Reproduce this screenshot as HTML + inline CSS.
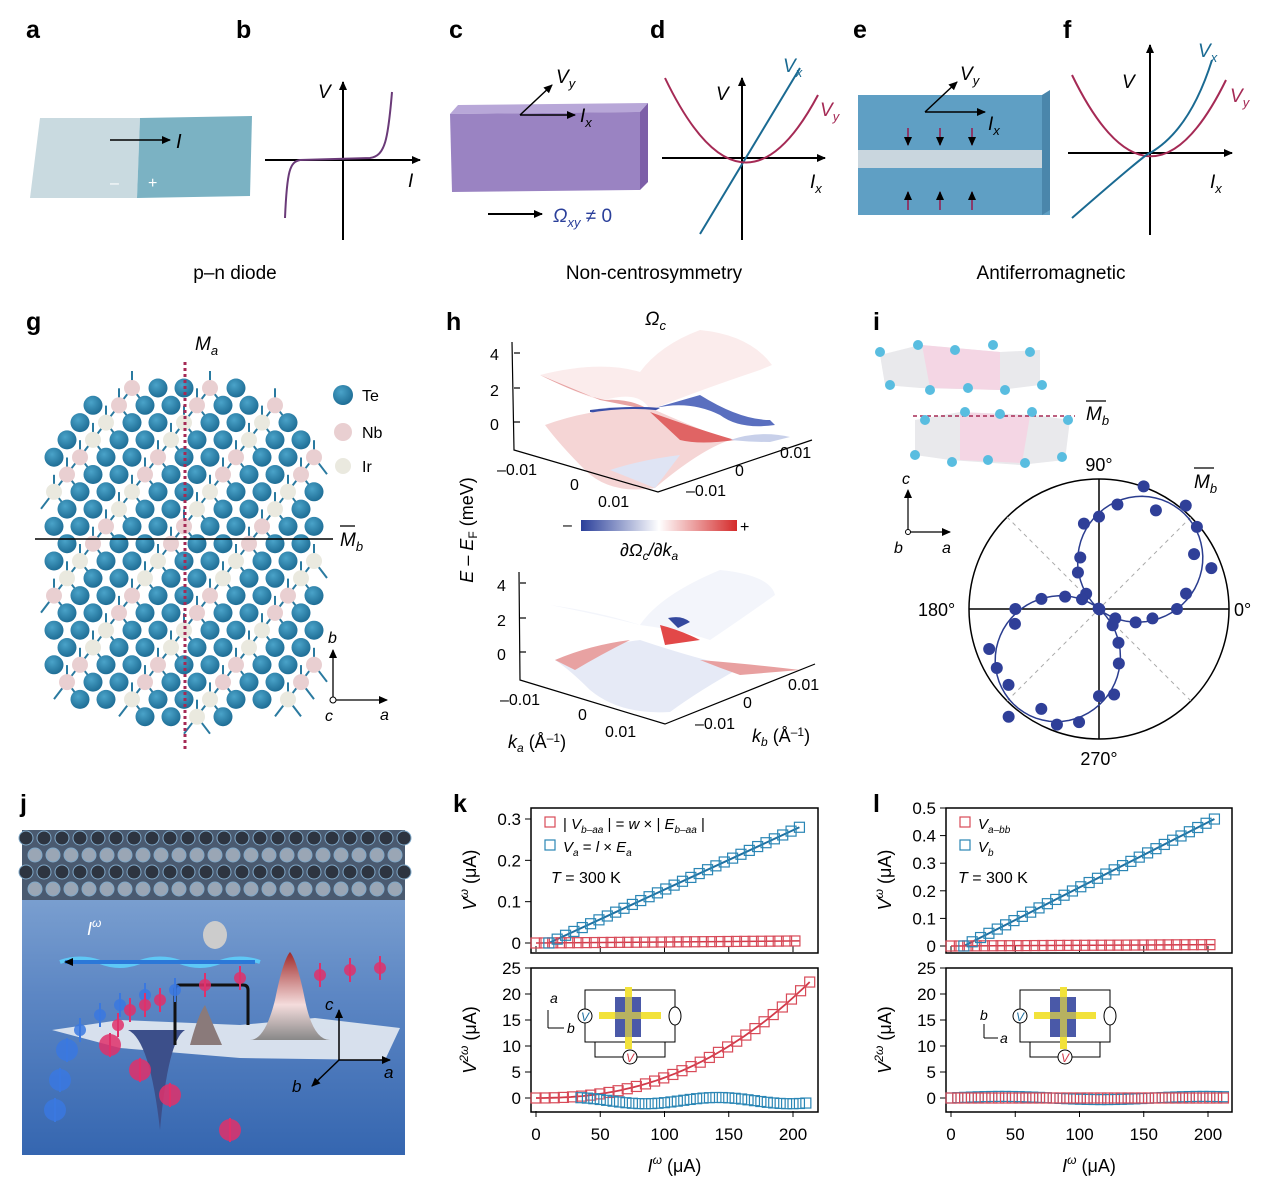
<!DOCTYPE html>
<html><head><meta charset="utf-8"><style>
html,body{margin:0;padding:0;background:#fff}
svg{display:block;font-family:"Liberation Sans",sans-serif}
.lb{font-weight:bold;font-size:25px}
.t{font-size:17px}
.it{font-style:italic}
</style></head><body>
<svg id="s" width="1280" height="1194" viewBox="0 0 1280 1194" xmlns="http://www.w3.org/2000/svg">
<defs>
<marker id="ar" markerWidth="10" markerHeight="10" refX="8" refY="5" orient="auto" markerUnits="userSpaceOnUse"><path d="M0,1 L9,5 L0,9 z" fill="#000"/></marker>
<linearGradient id="cb" x1="0" x2="1"><stop offset="0" stop-color="#2a3f9a"/><stop offset="0.5" stop-color="#fff"/><stop offset="1" stop-color="#d42a2a"/></linearGradient>
<linearGradient id="jbg" x1="0" y1="0" x2="0" y2="1"><stop offset="0" stop-color="#8fb0d8"/><stop offset="0.5" stop-color="#5d87c4"/><stop offset="1" stop-color="#3566b0"/></linearGradient>
<linearGradient id="pk" x1="0" y1="0" x2="0" y2="1"><stop offset="0" stop-color="#a02a2a"/><stop offset="0.6" stop-color="#f4dcdc"/><stop offset="1" stop-color="#888"/></linearGradient>
<radialGradient id="te" cx="0.4" cy="0.35" r="0.7"><stop offset="0" stop-color="#4aa3c9"/><stop offset="1" stop-color="#1c6a92"/></radialGradient>
</defs>

<text class="lb" x="26" y="38">a</text><text class="lb" x="236" y="38">b</text>
<text class="lb" x="449" y="38">c</text><text class="lb" x="650" y="38">d</text>
<text class="lb" x="853" y="38">e</text><text class="lb" x="1063" y="38">f</text>
<text x="235" y="279" font-size="19" text-anchor="middle">p–n diode</text>
<text x="654" y="279" font-size="19" text-anchor="middle">Non-centrosymmetry</text>
<text x="1051" y="279" font-size="19" text-anchor="middle">Antiferromagnetic</text>

<!-- a -->
<polygon points="40,118 140,118 137,198 30,198" fill="#c9dae0"/>
<polygon points="140,118 252,116 250,196 137,198" fill="#7bb2c3"/>
<line x1="110" y1="140" x2="170" y2="140" stroke="#000" stroke-width="1.5" marker-end="url(#ar)"/>
<text x="176" y="148" font-size="20" class="it">I</text>
<text x="110" y="188" fill="#fff" font-size="16">–</text><text x="148" y="188" fill="#fff" font-size="16">+</text>
<!-- b -->
<line x1="265" y1="160" x2="420" y2="160" stroke="#000" stroke-width="2" marker-end="url(#ar)"/>
<line x1="343" y1="240" x2="343" y2="82" stroke="#000" stroke-width="2" marker-end="url(#ar)"/>
<path d="M285,218 C287,170 290,162 300,160 L370,158 C385,156 388,140 392,92" fill="none" stroke="#6a3a78" stroke-width="2"/>
<text x="318" y="98" font-size="19" class="it">V</text><text x="408" y="187" font-size="19" class="it">I</text>
<!-- c -->
<polygon points="458,105 648,103 640,112 450,114" fill="#b8a7d8"/>
<polygon points="450,114 640,112 640,190 452,192" fill="#9a83c2"/>
<polygon points="640,112 648,103 648,182 640,190" fill="#7d5fa8"/>
<line x1="520" y1="115" x2="575" y2="115" stroke="#000" stroke-width="1.5" marker-end="url(#ar)"/>
<line x1="520" y1="115" x2="552" y2="85" stroke="#000" stroke-width="1.5" marker-end="url(#ar)"/>
<text x="556" y="83" font-size="19" class="it">V<tspan font-size="13" dy="5">y</tspan></text>
<text x="580" y="122" font-size="19" class="it">I<tspan font-size="13" dy="5">x</tspan></text>
<line x1="488" y1="214" x2="542" y2="214" stroke="#000" stroke-width="2" marker-end="url(#ar)"/>
<text x="553" y="222" font-size="19" fill="#2a3f9a"><tspan class="it">Ω</tspan><tspan font-size="13" dy="5" class="it">xy</tspan><tspan dy="-5"> ≠ 0</tspan></text>
<!-- d -->
<line x1="662" y1="158" x2="825" y2="158" stroke="#000" stroke-width="2" marker-end="url(#ar)"/>
<line x1="742" y1="240" x2="742" y2="78" stroke="#000" stroke-width="2" marker-end="url(#ar)"/>
<line x1="700" y1="234" x2="800" y2="68" stroke="#1a6a92" stroke-width="2"/>
<path d="M665,78 Q742,238 818,95" fill="none" stroke="#a52a55" stroke-width="2"/>
<text x="716" y="100" font-size="19" class="it">V</text>
<text x="783" y="72" font-size="19" class="it" fill="#1a6a92">V<tspan font-size="13" dy="5">x</tspan></text>
<text x="820" y="116" font-size="19" class="it" fill="#a52a55">V<tspan font-size="13" dy="5">y</tspan></text>
<text x="810" y="188" font-size="19" class="it">I<tspan font-size="13" dy="5">x</tspan></text>
<!-- e -->
<polygon points="858,95 1050,95 1050,150 858,150" fill="#5f9fc4"/>
<polygon points="858,150 1050,150 1050,168 858,168" fill="#c9d6de"/>
<polygon points="858,168 1050,168 1050,215 858,215" fill="#5f9fc4"/>
<polygon points="1042,95 1050,90 1050,210 1042,215" fill="#4a86ab"/>
<g stroke="#8a3a6a" stroke-width="2" fill="#8a3a6a">
<line x1="908" y1="128" x2="908" y2="145" marker-end="url(#ar)"/><line x1="940" y1="128" x2="940" y2="145" marker-end="url(#ar)"/><line x1="972" y1="128" x2="972" y2="145" marker-end="url(#ar)"/>
<line x1="908" y1="210" x2="908" y2="192" marker-end="url(#ar)"/><line x1="940" y1="210" x2="940" y2="192" marker-end="url(#ar)"/><line x1="972" y1="210" x2="972" y2="192" marker-end="url(#ar)"/>
</g>
<line x1="925" y1="112" x2="985" y2="112" stroke="#000" stroke-width="1.5" marker-end="url(#ar)"/>
<line x1="925" y1="112" x2="957" y2="82" stroke="#000" stroke-width="1.5" marker-end="url(#ar)"/>
<text x="960" y="80" font-size="19" class="it">V<tspan font-size="13" dy="5">y</tspan></text>
<text x="988" y="130" font-size="19" class="it">I<tspan font-size="13" dy="5">x</tspan></text>
<!-- f -->
<line x1="1068" y1="153" x2="1232" y2="153" stroke="#000" stroke-width="2" marker-end="url(#ar)"/>
<line x1="1150" y1="235" x2="1150" y2="45" stroke="#000" stroke-width="2" marker-end="url(#ar)"/>
<path d="M1072,75 Q1150,235 1226,80" fill="none" stroke="#a52a55" stroke-width="2"/>
<path d="M1072,218 Q1150,150 1150,153 Q1190,130 1212,60" fill="none" stroke="#1a6a92" stroke-width="2"/>
<text x="1122" y="88" font-size="19" class="it">V</text>
<text x="1198" y="57" font-size="19" class="it" fill="#1a6a92">V<tspan font-size="13" dy="5">x</tspan></text>
<text x="1230" y="102" font-size="19" class="it" fill="#a52a55">V<tspan font-size="13" dy="5">y</tspan></text>
<text x="1210" y="188" font-size="19" class="it">I<tspan font-size="13" dy="5">x</tspan></text>

<!-- g -->
<text class="lb" x="26" y="330">g</text>
<g id="bonds" stroke="#2a7aa0" stroke-width="2"></g>
<g id="lat"></g>
<line x1="185" y1="362" x2="185" y2="750" stroke="#a52a55" stroke-width="3" stroke-dasharray="3,3"/>
<line x1="35" y1="539" x2="333" y2="539" stroke="#000" stroke-width="1.5"/>
<text x="195" y="350" font-size="19" class="it">M<tspan font-size="13" dy="5">a</tspan></text>
<text x="340" y="546" font-size="19" class="it">M<tspan font-size="13" dy="5">b</tspan></text>
<line x1="340" y1="526" x2="355" y2="526" stroke="#000" stroke-width="1.3"/>
<circle cx="343" cy="395" r="10" fill="url(#te)"/><text x="362" y="401" font-size="16">Te</text>
<circle cx="343" cy="432" r="9" fill="#e9cfd1"/><text x="362" y="438" font-size="16">Nb</text>
<circle cx="343" cy="466" r="8" fill="#eae9df"/><text x="362" y="472" font-size="16">Ir</text>
<line x1="333" y1="700" x2="333" y2="650" stroke="#000" stroke-width="1.3" marker-end="url(#ar)"/>
<line x1="333" y1="700" x2="387" y2="700" stroke="#000" stroke-width="1.3" marker-end="url(#ar)"/>
<circle cx="333" cy="700" r="3" fill="#fff" stroke="#000"/>
<text x="328" y="643" font-size="16" class="it">b</text><text x="380" y="720" font-size="16" class="it">a</text><text x="325" y="721" font-size="16" class="it">c</text>

<!-- h -->
<text class="lb" x="446" y="330">h</text>
<text x="645" y="325" font-size="19" class="it">Ω<tspan font-size="13" dy="5">c</tspan></text>
<text transform="translate(473,530) rotate(-90)" font-size="18" text-anchor="middle"><tspan class="it">E</tspan> – <tspan class="it">E</tspan><tspan font-size="12" dy="4">F</tspan><tspan dy="-4"> (meV)</tspan></text>
<path d="M540,375 Q590,400 605,400 Q640,390 650,410 Q700,390 760,370 L772,365 Q750,335 700,330 Q660,345 640,372 Q600,360 540,375 Z" fill="#fbecec"/>
<path d="M540,375 Q580,395 605,400 Q630,398 650,410 L600,400 Z" fill="#e7a3a3"/>
<path d="M655,408 Q690,400 720,415 Q740,430 775,425 L770,420 Q740,420 700,395 Z" fill="#5a6fbf"/>
<path d="M590,410 Q630,405 660,408 Q640,420 590,412 Z" fill="#3a4fa8"/>
<path d="M545,425 Q600,405 655,410 Q700,430 730,440 Q700,450 655,488 Q610,495 585,470 Q560,445 545,425 Z" fill="#f5d5d5"/>
<path d="M650,412 Q700,430 735,440 Q700,445 680,440 Z" fill="#e06464"/>
<path d="M610,470 Q640,460 680,455 L655,488 Z" fill="#dfe4f4"/>
<path d="M730,440 Q760,430 790,437 L770,442 Q750,442 730,440 Z" fill="#c8d0ea"/>
<g stroke="#000" stroke-width="1.2" fill="none">
<polyline points="512,342 514,450 658,492 812,440"/>
<line x1="514" y1="353" x2="520" y2="353"/><line x1="514" y1="388" x2="520" y2="388"/><line x1="514" y1="422" x2="520" y2="422"/>
</g>
<text x="490" y="360" font-size="16">4</text><text x="490" y="396" font-size="16">2</text><text x="490" y="430" font-size="16">0</text>
<text x="497" y="475" font-size="16">–0.01</text><text x="570" y="490" font-size="16">0</text><text x="598" y="507" font-size="16">0.01</text>
<text x="780" y="458" font-size="16">0.01</text><text x="735" y="476" font-size="16">0</text><text x="686" y="496" font-size="16">–0.01</text>
<text x="563" y="530" font-size="16">–</text>
<rect x="581" y="520" width="156" height="11" fill="url(#cb)"/>
<text x="740" y="532" font-size="16">+</text>
<text x="620" y="556" font-size="18" class="it">∂Ω<tspan font-size="12" dy="4">c</tspan><tspan dy="-4">/∂k</tspan><tspan font-size="12" dy="4">a</tspan></text>
<path d="M550,605 Q600,615 640,625 Q660,595 720,570 Q770,575 775,595 Q740,620 710,640 Q680,630 640,625 Q600,612 550,605 Z" fill="#f3f5fb"/>
<path d="M660,625 Q680,630 700,640 L665,645 Z" fill="#e24848"/>
<path d="M668,618 Q682,615 690,622 L678,628 Z" fill="#34489e"/>
<path d="M555,660 Q600,645 640,640 Q700,660 740,668 Q700,690 670,712 Q620,715 590,690 Q570,670 555,660 Z" fill="#e6eaf6"/>
<path d="M555,660 Q590,645 630,640 Q600,655 575,670 Z" fill="#e8a2a2"/>
<path d="M700,660 Q760,665 800,670 L740,675 Q720,668 700,660 Z" fill="#e8a0a0"/>
<g stroke="#000" stroke-width="1.2" fill="none">
<polyline points="519,572 520,680 665,724 815,664"/>
<line x1="520" y1="583" x2="526" y2="583"/><line x1="520" y1="618" x2="526" y2="618"/><line x1="520" y1="652" x2="526" y2="652"/>
</g>
<text x="497" y="591" font-size="16">4</text><text x="497" y="626" font-size="16">2</text><text x="497" y="660" font-size="16">0</text>
<text x="500" y="705" font-size="16">–0.01</text><text x="578" y="720" font-size="16">0</text><text x="605" y="737" font-size="16">0.01</text>
<text x="788" y="690" font-size="16">0.01</text><text x="743" y="708" font-size="16">0</text><text x="695" y="729" font-size="16">–0.01</text>
<text x="508" y="748" font-size="18"><tspan class="it">k</tspan><tspan font-size="12" dy="4" class="it">a</tspan><tspan dy="-4"> (Å</tspan><tspan font-size="12" dy="-6">–1</tspan><tspan dy="6">)</tspan></text>
<text x="752" y="742" font-size="18"><tspan class="it">k</tspan><tspan font-size="12" dy="4" class="it">b</tspan><tspan dy="-4"> (Å</tspan><tspan font-size="12" dy="-6">–1</tspan><tspan dy="6">)</tspan></text>

<!-- i -->
<text class="lb" x="873" y="330">i</text>
<polygon points="880,355 920,345 1000,352 1040,350 1040,385 1000,390 920,388 885,385" fill="#e9e9ec"/>
<polygon points="922,345 1000,352 1000,390 930,388" fill="#f4d6e4"/>
<polygon points="915,420 960,412 1035,415 1070,420 1065,460 1020,465 950,460 915,455" fill="#e9e9ec"/>
<polygon points="960,412 1030,416 1022,463 960,460" fill="#f4d6e4"/>
<line x1="913" y1="416" x2="1075" y2="416" stroke="#a52a55" stroke-width="1.5" stroke-dasharray="4,3"/>
<text x="1086" y="420" font-size="19" class="it">M<tspan font-size="13" dy="5">b</tspan></text>
<line x1="1086" y1="401" x2="1106" y2="401" stroke="#000" stroke-width="1.3"/>
<g id="icat" fill="#59bde0"></g>
<line x1="908" y1="532" x2="908" y2="490" stroke="#000" stroke-width="1.2" marker-end="url(#ar)"/>
<line x1="908" y1="532" x2="950" y2="532" stroke="#000" stroke-width="1.2" marker-end="url(#ar)"/>
<circle cx="908" cy="532" r="2.5" fill="#fff" stroke="#000"/>
<text x="902" y="484" font-size="16" class="it">c</text><text x="894" y="553" font-size="16" class="it">b</text><text x="942" y="553" font-size="16" class="it">a</text>
<circle cx="1099" cy="609" r="130" fill="none" stroke="#000" stroke-width="1.5"/>
<line x1="969" y1="609" x2="1229" y2="609" stroke="#000" stroke-width="1.5"/>
<line x1="1099" y1="479" x2="1099" y2="739" stroke="#000" stroke-width="1.5"/>
<line x1="1007" y1="517" x2="1191" y2="701" stroke="#aaa" stroke-dasharray="4,4"/>
<line x1="1007" y1="701" x2="1191" y2="517" stroke="#aaa" stroke-dasharray="4,4"/>
<text x="1099" y="471" font-size="18" text-anchor="middle">90°</text>
<text x="1099" y="765" font-size="18" text-anchor="middle">270°</text>
<text x="918" y="616" font-size="18">180°</text><text x="1234" y="616" font-size="18">0°</text>
<text x="1194" y="488" font-size="19" class="it">M<tspan font-size="13" dy="5">b</tspan></text>
<line x1="1194" y1="468" x2="1214" y2="468" stroke="#000" stroke-width="1.3"/>
<path id="pol" fill="none" stroke="#2b3d8f" stroke-width="1.5"/>
<g id="pold" fill="#2f3f98"></g>

<!-- j -->
<text class="lb" x="20" y="812">j</text>
<rect x="22" y="830" width="383" height="325" fill="url(#jbg)"/>
<rect x="22" y="830" width="383" height="70" fill="#4a5a70"/>
<g id="jat"></g>
<polygon points="52,1030 120,1020 240,1025 315,1018 400,1028 385,1060 240,1058 120,1048" fill="#e6ebf2" opacity="0.9"/>
<path d="M250,1040 Q265,1040 275,1000 Q283,960 290,952 Q297,960 305,1000 Q313,1040 330,1040 Z" fill="url(#pk)"/>
<path d="M128,1030 Q150,1040 160,1130 Q168,1040 185,1030 Z" fill="#3c4f8a"/>
<path d="M190,1045 Q198,1015 205,1005 Q213,1025 222,1045 Z" fill="#8a7a7a"/>
<path d="M175,1045 L175,990 Q175,985 180,985 L243,985 Q248,985 248,990 L248,1025" fill="none" stroke="#111" stroke-width="3"/>
<ellipse cx="215" cy="935" rx="12" ry="14" fill="#ccc"/>
<path d="M60,962 Q80,955 100,962 Q120,970 140,962 Q160,955 180,962 Q200,970 220,962 Q240,955 260,962" fill="none" stroke="#5ec8f6" stroke-width="4"/>
<line x1="255" y1="962" x2="65" y2="962" stroke="#2b78d8" stroke-width="4" marker-end="url(#ar)"/>
<text x="87" y="935" font-size="18" fill="#fff" class="it">I<tspan font-size="12" dy="-8">ω</tspan></text>
<g id="jsp"></g>
<line x1="339" y1="1060" x2="339" y2="1010" stroke="#000" stroke-width="1.5" marker-end="url(#ar)"/>
<line x1="339" y1="1060" x2="390" y2="1060" stroke="#000" stroke-width="1.5" marker-end="url(#ar)"/>
<line x1="339" y1="1060" x2="312" y2="1086" stroke="#000" stroke-width="1.5" marker-end="url(#ar)"/>
<text x="325" y="1010" font-size="17" class="it">c</text><text x="384" y="1078" font-size="17" class="it">a</text><text x="292" y="1092" font-size="17" class="it">b</text>

<text class="lb" x="453" y="812">k</text>
<g id="kg"></g>
<text class="lb" x="873" y="812">l</text>
<g id="lg"></g>
</svg>
<script>
const NS="http://www.w3.org/2000/svg";
function el(p,t,a,txt){const e=document.createElementNS(NS,t);for(const k in a)e.setAttribute(k,a[k]);if(txt!==undefined)e.textContent=txt;(typeof p==='string'?document.getElementById(p):p).appendChild(e);return e;}
(function(){
 for(let r=0;r<20;r++){const y=388+r*17.3;
  for(let k=(r%2);k<=21;k+=2){const x=54+13*k;
   const dy=Math.min(r,19-r);const w=dy<1?55:dy<2?105:dy<3?125:140;
   if(Math.abs(x-184)>w)continue;
   const m=(k+r)%6;
   if(m==3)continue;
   if(m==0){el('lat','circle',{cx:x,cy:y,r:8,fill:(r%4<2)?'#e9cfd1':'#eae9df'});
     el('bonds','line',{x1:x,y1:y,x2:x,y2:y-17});el('bonds','line',{x1:x,y1:y,x2:x-13,y2:y+17});el('bonds','line',{x1:x,y1:y,x2:x+13,y2:y+17});}
   else el('lat','circle',{cx:x,cy:y,r:9.5,fill:'url(#te)'});
  }}
})();
[[880,352],[918,345],[955,350],[993,345],[1030,352],[890,385],[930,390],[968,388],[1005,390],[1042,385],[925,420],[965,412],[1000,414],[1032,412],[1068,420],[915,455],[952,462],[988,460],[1025,463],[1062,457]].forEach(p=>el('icat','circle',{cx:p[0],cy:p[1],r:5}));
(function(){let d='';const cx=1099,cy=609,R=128,a0=0.88,ex=1.1;
 for(let i=0;i<=360;i+=3){const t=i*Math.PI/180;const r=R*Math.pow(Math.abs(Math.cos(t-a0)),ex);const x=cx+r*Math.cos(t),y=cy-r*Math.sin(t);d+=(i?'L':'M')+x.toFixed(1)+','+y.toFixed(1);}
 document.getElementById('pol').setAttribute('d',d);
 for(let i=0;i<360;i+=10){const t=i*Math.PI/180;const n=1+0.1*Math.sin(i*7.3);const r=n*R*Math.pow(Math.abs(Math.cos(t-a0)),ex);el('pold','circle',{cx:cx+r*Math.cos(t),cy:cy-r*Math.sin(t),r:6});}
})();
for(let row=0;row<4;row++)for(let x=26+(row%2)*9;x<405;x+=18)el('jat','circle',{cx:x,cy:838+row*17,r:7,fill:row%2?'#9aa6b5':'#2d3440',stroke:'#7fa8c8','stroke-width':1});
[[55,1110,'b'],[60,1080,'b'],[67,1050,'b'],[80,1030,'b'],[100,1015,'b'],[120,1005,'b'],[145,995,'b'],[175,990,'b'],[110,1045,'r'],[118,1025,'r'],[130,1010,'r'],[145,1005,'r'],[160,1000,'r'],[140,1070,'r'],[170,1095,'r'],[230,1130,'r'],[205,985,'r'],[240,978,'r'],[320,975,'r'],[350,970,'r'],[380,968,'r']].forEach(p=>{const c=p[2]=='r'?'#e0306a':'#3a78e0';el('jsp','circle',{cx:p[0],cy:p[1],r:p[1]>1040?11:6,fill:c,opacity:0.85});el('jsp','line',{x1:p[0],y1:p[1]-12,x2:p[0],y2:p[1]+12,stroke:c,'stroke-width':2});});
function plot(G,X0,X1,Xp0,Xp200,yl,yh,yTicks,bluemax,ll){
 const fs=17;
 el(G,'rect',{x:X0,y:808,width:X1-X0,height:145,fill:'none',stroke:'#000','stroke-width':1.5});
 el(G,'rect',{x:X0,y:968,width:X1-X0,height:144,fill:'none',stroke:'#000','stroke-width':1.5});
 const xs=v=>Xp0+(Xp200-Xp0)*v/200;
 [0,50,100,150,200].forEach(v=>{el(G,'line',{x1:xs(v),y1:952,x2:xs(v),y2:946,stroke:'#000'});el(G,'line',{x1:xs(v),y1:1111,x2:xs(v),y2:1117,stroke:'#000'});el(G,'text',{x:xs(v),y:1140,'font-size':fs,'text-anchor':'middle'},String(v));});
 const yT=v=>yl+(yh-yl)*v/yTicks[yTicks.length-1];
 yTicks.forEach(v=>{el(G,'line',{x1:X0,y1:yT(v),x2:X0-6,y2:yT(v),stroke:'#000'});el(G,'text',{x:X0-10,y:yT(v)+6,'font-size':fs,'text-anchor':'end'},String(v));});
 const yB=v=>1098-(1098-968)*v/25;
 [0,5,10,15,20,25].forEach(v=>{el(G,'line',{x1:X0,y1:yB(v),x2:X0-6,y2:yB(v),stroke:'#000'});el(G,'text',{x:X0-10,y:yB(v)+6,'font-size':fs,'text-anchor':'end'},String(v));});
 el(G,'line',{x1:xs(10),y1:yT(0),x2:xs(205),y2:yT(bluemax),stroke:'#1f6fa0','stroke-width':2});
 el(G,'line',{x1:xs(0),y1:yT(0),x2:xs(205),y2:yT(0.005),stroke:'#d23a4a','stroke-width':1.5});
 for(let v=0;v<=205;v+=6.5){el(G,'rect',{x:xs(v)-5,y:yT(0.005*v/205)-5,width:10,height:10,fill:'none',stroke:'#d84a58','stroke-width':1.2});}
 for(let v=10;v<=205;v+=6.5){const yv=bluemax*(v-10)/195;el(G,'rect',{x:xs(v)-5,y:yT(yv)-5,width:10,height:10,fill:'none',stroke:'#2a86b5','stroke-width':1.2});}
 if(ll){let d='';for(let v=0;v<=213;v+=3){d+=(v?'L':'M')+xs(v).toFixed(1)+','+yB(22.3*Math.pow(v/213,2.3)).toFixed(1);}el(G,'path',{d:d,fill:'none',stroke:'#d23a4a','stroke-width':1.8});
  for(let v=0;v<=213;v+=7.1){el(G,'rect',{x:xs(v)-5,y:yB(22.3*Math.pow(v/213,2.3))-5,width:10,height:10,fill:'none',stroke:'#d84a58','stroke-width':1.2});}
  for(let v=35;v<=213;v+=5){const b=-0.5+0.6*Math.sin(v/18);el(G,'rect',{x:xs(v)-5,y:yB(b)-5,width:10,height:10,fill:'none',stroke:'#2a86b5','stroke-width':1.2});}
 } else {
  for(let v=0;v<=213;v+=5.3){el(G,'rect',{x:xs(v)-5,y:yB(0.3*Math.sin(v/25))-5,width:10,height:10,fill:'none',stroke:'#2a86b5','stroke-width':1.2});el(G,'rect',{x:xs(v)-5,y:yB(0)-5,width:10,height:10,fill:'none',stroke:'#d84a58','stroke-width':1.2});}
 }
 el(G,'text',{x:(X0+X1)/2,y:1172,'font-size':18,'text-anchor':'middle'}).innerHTML='<tspan font-style="italic">I</tspan><tspan font-size="12" dy="-8" font-style="italic">ω</tspan><tspan dy="8"> (μA)</tspan>';
 el(G,'text',{transform:`translate(${X0-55},880) rotate(-90)`,'font-size':18,'text-anchor':'middle'}).innerHTML='<tspan font-style="italic">V</tspan><tspan font-size="12" dy="-8" font-style="italic">ω</tspan><tspan dy="8"> (μA)</tspan>';
 el(G,'text',{transform:`translate(${X0-55},1040) rotate(-90)`,'font-size':18,'text-anchor':'middle'}).innerHTML='<tspan font-style="italic">V</tspan><tspan font-size="12" dy="-8" font-style="italic">2ω</tspan><tspan dy="8"> (μA)</tspan>';
 const ix=ll?585:1020, iy=990;
 el(G,'rect',{x:ix,y:iy,width:90,height:52,fill:'none',stroke:'#000'});
 el(G,'polyline',{points:`${ix+10},${iy+52} ${ix+10},${iy+67} ${ix+80},${iy+67} ${ix+80},${iy+52}`,fill:'none',stroke:'#000'});
 el(G,'rect',{x:ix+30,y:iy+7,width:26,height:40,fill:'#4a5aa8'});
 el(G,'rect',{x:ix+40,y:iy-3,width:7,height:62,fill:'#f2e23a'});
 el(G,'rect',{x:ix+14,y:iy+22,width:62,height:7,fill:'#f2e23a'});
 el(G,'rect',{x:ix+30,y:iy+7,width:26,height:40,fill:'#4a5aa8',opacity:0.35});
 el(G,'circle',{cx:ix,cy:iy+26,r:7,fill:'#fff',stroke:'#000'});el(G,'text',{x:ix,y:iy+31,'font-size':12,'text-anchor':'middle',fill:'#1f6fa0','font-style':'italic'},'V');
 el(G,'circle',{cx:ix+45,cy:iy+67,r:7,fill:'#fff',stroke:'#000'});el(G,'text',{x:ix+45,y:iy+72,'font-size':12,'text-anchor':'middle',fill:'#d23a4a','font-style':'italic'},'V');
 el(G,'ellipse',{cx:ix+90,cy:iy+26,rx:6,ry:9,fill:'#fff',stroke:'#000'});
 el(G,'rect',{x:X0+14,y:817,width:10,height:10,fill:'none',stroke:'#d84a58','stroke-width':1.2});
 el(G,'rect',{x:X0+14,y:840,width:10,height:10,fill:'none',stroke:'#2a86b5','stroke-width':1.2});
 const t1=el(G,'text',{x:X0+32,y:829,'font-size':15});
 const t2=el(G,'text',{x:X0+32,y:852,'font-size':15});
 if(ll){t1.innerHTML='| <tspan font-style="italic">V</tspan><tspan font-size="10" dy="4" font-style="italic">b–aa</tspan><tspan dy="-4"> | = </tspan><tspan font-style="italic">w</tspan> × | <tspan font-style="italic">E</tspan><tspan font-size="10" dy="4" font-style="italic">b–aa</tspan><tspan dy="-4"> |</tspan>';
  t2.innerHTML='<tspan font-style="italic">V</tspan><tspan font-size="10" dy="4" font-style="italic">a</tspan><tspan dy="-4"> = </tspan><tspan font-style="italic">l</tspan> × <tspan font-style="italic">E</tspan><tspan font-size="10" dy="4" font-style="italic">a</tspan>';
  el(G,'text',{x:X0+20,y:883,'font-size':16}).innerHTML='<tspan font-style="italic">T</tspan> = 300 K';
  el(G,'text',{x:550,y:1003,'font-size':14,'font-style':'italic'},'a');el(G,'text',{x:567,y:1033,'font-size':14,'font-style':'italic'},'b');
  el(G,'line',{x1:548,y1:1028,x2:548,y2:1010,stroke:'#000'});el(G,'line',{x1:548,y1:1028,x2:564,y2:1028,stroke:'#000'});
 } else {
  t1.innerHTML='<tspan font-style="italic">V</tspan><tspan font-size="10" dy="4" font-style="italic">a–bb</tspan>';
  t2.innerHTML='<tspan font-style="italic">V</tspan><tspan font-size="10" dy="4" font-style="italic">b</tspan>';
  el(G,'text',{x:X0+12,y:883,'font-size':16}).innerHTML='<tspan font-style="italic">T</tspan> = 300 K';
  el(G,'text',{x:980,y:1020,'font-size':14,'font-style':'italic'},'b');el(G,'text',{x:1000,y:1043,'font-size':14,'font-style':'italic'},'a');
  el(G,'line',{x1:984,y1:1038,x2:984,y2:1024,stroke:'#000'});el(G,'line',{x1:984,y1:1038,x2:998,y2:1038,stroke:'#000'});
 }
}
plot(document.getElementById('kg'),531,818,536,793,943,819,[0,0.1,0.2,0.3],0.28,true);
plot(document.getElementById('lg'),946,1232,951,1208,946,808,[0,0.1,0.2,0.3,0.4,0.5],0.46,false);
</script>
</body></html>
